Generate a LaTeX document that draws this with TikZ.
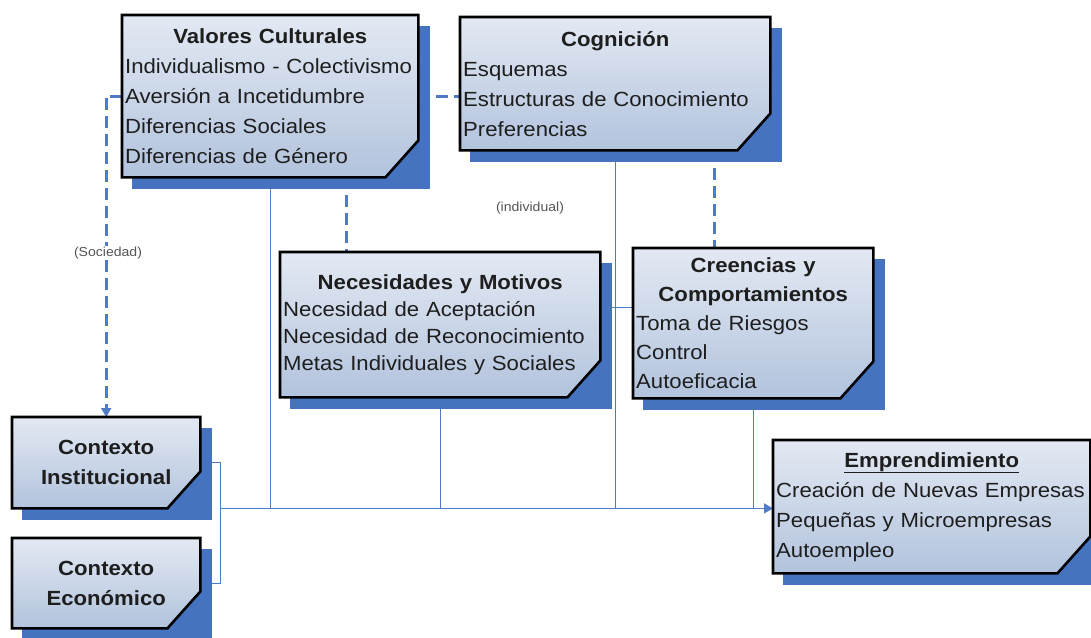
\documentclass[tikz,border=0pt]{standalone}
\usepackage{fontspec}
\setmainfont{Liberation Sans}[FakeStretch=1.08]
\usepackage{tikz}
\usetikzlibrary{positioning, calc, backgrounds, arrows.meta}
\definecolor{boxtop}{HTML}{E3E9F3}
\definecolor{boxbottom}{HTML}{B2C3DD}
\definecolor{shadowblue}{HTML}{4673C0}
\definecolor{linkblue}{HTML}{4F7BC4}
\definecolor{inkgray}{HTML}{1E1E1E}
\definecolor{taggray}{HTML}{555555}
\newcommand\boxhead[1]{\noindent\makebox[\hsize][c]{\bfseries #1}}
\newcommand\cutx{33pt}
\newcommand\cuty{37pt}
\tikzset{txtbox/.style = {anchor=north west, inner xsep=3pt, inner ysep=0pt, align=left, text=inkgray, font=\fontsize{20.5}{30}\selectfont}}
\tikzset{ctxbox/.style = {txtbox, align=center, text width=182pt, minimum width=188pt, font=\fontsize{20.5}{30}\selectfont\bfseries}}
\tikzset{link/.style = {draw=linkblue, line width=1.2pt}}
\tikzset{dashlink/.style = {draw=linkblue, line width=3pt, dash pattern=on 12pt off 6pt}}
\tikzset{tip/.style = {-{Triangle[length=9pt,width=10pt]}}}
\tikzset{tag/.style = {fill=white, inner sep=1pt, text=taggray, font=\fontsize{13}{15}\selectfont}}
\tikzset{boxshadow/.style = {fill=shadowblue}}
\tikzset{boxface/.style = {draw=black, line width=2.6pt, top color=boxtop, bottom color=boxbottom}}

\begin{document}
\begin{tikzpicture}[x=1pt, y=-1pt]
    \useasboundingbox (0,0) rectangle (1091,637);

    \node[txtbox, text width=290pt, minimum width=296pt, minimum height=162pt] (val) at (122,15)
        {\boxhead{Valores Culturales}\\ Individualismo - Colectivismo\\ Aversión a Incetidumbre\\ Diferencias Sociales\\ Diferencias de Género};
    \node[txtbox, text width=304pt, minimum width=310pt, minimum height=133pt] (cog) at (460,17)
        {\boxhead{Cognición}\\ Esquemas\\ Estructuras de Conocimiento\\ Preferencias};
    \node[txtbox, text width=314pt, minimum width=320pt, minimum height=145pt, font=\fontsize{20.5}{27}\selectfont] (nec) at (280,252)
        {\boxhead{Necesidades y Motivos}\\ Necesidad de Aceptación\\ Necesidad de Reconocimiento\\ Metas Individuales y Sociales};
    \node[txtbox, text width=234pt, minimum width=240pt, minimum height=150pt, font=\fontsize{20.5}{29}\selectfont] (cre) at (633,248)
        {\boxhead{Creencias y}\\ \boxhead{Comportamientos}\\ Toma de Riesgos\\ Control\\ Autoeficacia};
    \node[ctxbox, minimum height=91pt] (ins) at (12,417) {Contexto\\ Institucional};
    \node[ctxbox, minimum height=90pt] (eco) at (12,538) {Contexto\\ Económico};
    \node[txtbox, text width=311pt, minimum width=317pt, minimum height=133pt] (emp) at (773,440)
        {\boxhead{\underline{Emprendimiento}}\\ Creación de Nuevas Empresas\\ Pequeñas y Microempresas\\ Autoempleo};

    \begin{scope}[on background layer]
        % enlaces
        \draw[dashlink, tip] (val.west) -| (ins.north);
        \draw[dashlink] (val.east) -- (val.east -| cog.west);
        \draw[dashlink] ([xshift=224pt]val.south west) -- ([xshift=66pt]nec.north west);
        \draw[dashlink] ([xshift=254pt]cog.south west) -- ([xshift=81pt]cre.north west);
        \draw[link] (val.south) -- (val.south |- ins.south);
        \draw[link] (nec.south) -- (nec.south |- ins.south);
        \draw[link] (cog.south) -- (cog.south |- ins.south);
        \draw[link] (cre.south) -- (cre.south |- ins.south);
        \draw[link] ([yshift=16pt]cre.west) -- ([yshift=16pt]cre.west -| nec.east);
        \draw[link] (ins.east) -- ++(20,0) |- (eco.east);
        \draw[link, tip] ([xshift=20pt]ins.south east) -- (ins.south -| emp.west);
        % cajas
        \foreach \b in {val,cog,nec,cre,ins,eco,emp}{
            \fill[boxshadow] ([shift={(10pt,-11pt)}]\b.north west) rectangle ([shift={(12pt,-12pt)}]\b.south east);
            \shade[boxface] (\b.north west) -- (\b.north east) -- ([yshift=\cuty]\b.south east)
                -- ([xshift=-\cutx]\b.south east) -- (\b.south west) -- cycle;
        }
    \end{scope}

    \node[tag] (soc) at (108,253) {(Sociedad)};
    \node[tag] (ind) at (530,208) {(individual)};
\end{tikzpicture}
\end{document}
